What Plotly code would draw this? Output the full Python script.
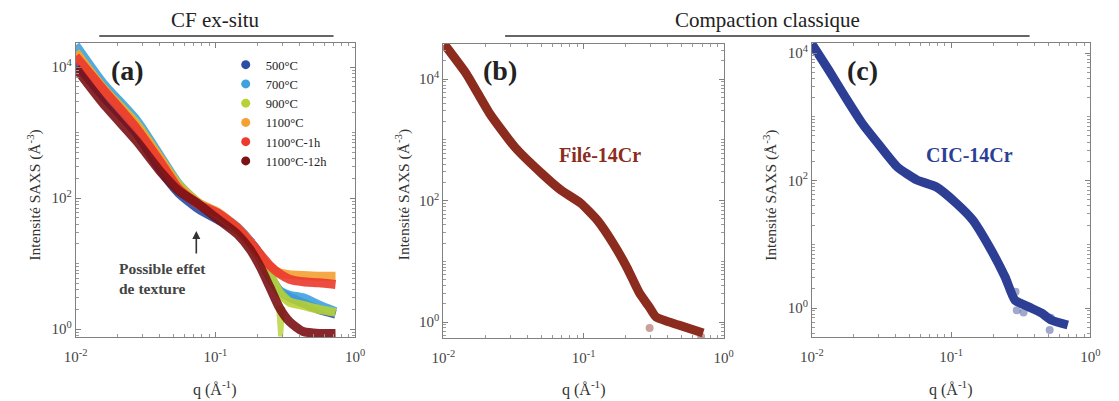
import plotly.graph_objects as go

# ---------------- data ----------------
q_a = [0.010, 0.0157, 0.0272, 0.0414, 0.0545, 0.0754, 0.104, 0.144, 0.177,
       0.209, 0.245, 0.288, 0.339, 0.425, 0.550, 0.724]

I_500 = [11500, 3600, 980, 250, 120, 69, 47, 33, 22, 13.5, 6.6, 3.8, 3.1, 2.5, 2.0, 1.7]
I_700 = [21700, 5700, 1560, 400, 165, 85, 60, 36, 22, 12, 6.2, 3.9, 3.3, 3.0, 2.35, 1.85]
I_900 = [17000, 4800, 1370, 370, 160, 85, 55, 32, 20, 12, 6.9, 3.6, 2.6, 2.3, 2.0, 1.8]
I_1100 = [17000, 4780, 1300, 370, 150, 85, 61, 35, 21.5, 13, 9.0, 7.2, 6.8, 6.6, 6.45, 6.45]
I_1100_1h = [14700, 4600, 1170, 330, 140, 80, 59, 35, 21.5, 14, 9.4, 7.0, 5.8, 5.3, 5.1, 4.8]
I_1100_12h = [9700, 2800, 750, 240, 130, 82, 48, 28, 16.5, 9.0, 4.4, 2.1, 1.3, 0.92, 0.86, 0.86]

q_900_dip = [0.283, 0.293, 0.303]
I_900_dip = [2.3, 0.78, 2.2]

q_b = [0.01016, 0.01449, 0.02133, 0.03238, 0.0500, 0.0690, 0.0953, 0.1253,
       0.1622, 0.2032, 0.2506, 0.2943, 0.329, 0.4766, 0.713]
I_b = [37700, 12560, 2756, 760, 284, 149, 91, 47.8, 20, 8.04, 3.0, 1.77, 1.21, 0.893, 0.659]
q_b_out = [0.296, 0.690]
I_b_out = [0.80, 0.57]

q_c = [0.0100, 0.01318, 0.01735, 0.02285, 0.02963, 0.04102, 0.05675, 0.07834,
       0.1084, 0.1428, 0.1883, 0.2440, 0.2869, 0.3600, 0.4443, 0.5224, 0.6886]
I_c = [13840, 5410, 2042, 798, 387, 163, 102, 79, 44.4, 24, 9.06, 3.06, 1.33, 1.04,
       0.835, 0.648, 0.541]
q_c_out = [0.290, 0.296, 0.331, 0.510, 0.520]
I_c_out = [1.8, 0.92, 0.85, 0.45, 0.7]

series_a = [
    ("500°C", I_500, "#2B4EA6"),
    ("700°C", I_700, "#3FA2DE"),
    ("900°C", I_900, "#B7D236"),
    ("1100°C", I_1100, "#F6A033"),
    ("1100°C-1h", I_1100_1h, "#EC3A2E"),
    ("1100°C-12h", I_1100_12h, "#7C1116"),
]

color_b = "#8C2C1E"
color_c = "#2C3F95"
FONT = "Liberation Serif"
W, H = 1119, 401

fig = go.Figure()

# panel (a) curves
for name, vals, col in series_a:
    fig.add_trace(go.Scatter(x=q_a, y=vals, mode="lines",
                             line=dict(color=col, width=9, shape="spline", smoothing=0.6),
                             opacity=0.9, showlegend=False, xaxis="x", yaxis="y"))
    if name == "900°C":
        fig.add_trace(go.Scatter(x=q_900_dip, y=I_900_dip, mode="lines", line=dict(color=col, width=5),
                                 opacity=0.8, showlegend=False, xaxis="x", yaxis="y"))
# legend entries
for name, vals, col in series_a:
    fig.add_trace(go.Scatter(x=[None], y=[None], mode="markers", name=name,
                             marker=dict(color=col, size=9), xaxis="x", yaxis="y"))

# panel (b)
fig.add_trace(go.Scatter(x=q_b, y=I_b, mode="lines",
                         line=dict(color=color_b, width=9, shape="spline", smoothing=0.5),
                         showlegend=False, xaxis="x2", yaxis="y2"))
fig.add_trace(go.Scatter(x=q_b_out, y=I_b_out, mode="markers", marker=dict(color=color_b, size=8, opacity=0.45),
                         showlegend=False, xaxis="x2", yaxis="y2"))
# panel (c)
fig.add_trace(go.Scatter(x=q_c, y=I_c, mode="lines",
                         line=dict(color=color_c, width=9, shape="spline", smoothing=0.5),
                         showlegend=False, xaxis="x3", yaxis="y3"))
fig.add_trace(go.Scatter(x=q_c_out, y=I_c_out, mode="markers", marker=dict(color=color_c, size=8, opacity=0.45),
                         showlegend=False, xaxis="x3", yaxis="y3"))


def px_x(p):
    return p / W


def px_y(p):
    return 1 - p / H


minor_vals = [k * 10 ** n for n in range(-3, 6) for k in range(2, 10)]
tickfont = dict(family=FONT, size=15, color="#444")


def xaxis(dom):
    return dict(type="log", domain=dom, range=[-2, 0], tickvals=[0.01, 0.1, 1],
                ticktext=["10<sup>-2</sup>", "10<sup>-1</sup>", "10<sup>0</sup>"],
                showline=True, mirror="ticks", linecolor="#808080", linewidth=1,
                ticks="inside", ticklen=5, tickcolor="#808080", showgrid=False, zeroline=False,
                tickfont=tickfont, ticklabelstandoff=6,
                minor=dict(ticks="inside", ticklen=3, tickcolor="#999", tickvals=minor_vals, showgrid=False))


def yaxis(dom, rng, anchor):
    return dict(type="log", domain=dom, range=rng, anchor=anchor,
                tickvals=[1, 100, 10000],
                ticktext=["10<sup>0</sup>", "10<sup>2</sup>", "10<sup>4</sup>"],
                showline=True, mirror="ticks", linecolor="#808080", linewidth=1,
                ticks="inside", ticklen=5, tickcolor="#808080", showgrid=False, zeroline=False,
                tickfont=tickfont,
                minor=dict(ticks="inside", ticklen=3, tickcolor="#999", tickvals=[10, 1000] + minor_vals,
                           showgrid=False))


fig.update_layout(
    width=W, height=H, margin=dict(l=0, r=0, t=0, b=0),
    paper_bgcolor="white", plot_bgcolor="white",
    font=dict(family=FONT, color="#333"),
    xaxis=dict(xaxis([px_x(65), px_x(350)]), anchor="y"),
    yaxis=yaxis([px_y(337), px_y(43)], [-0.12, 4.37], "x"),
    xaxis2=dict(xaxis([px_x(440), px_x(726)]), anchor="y2"),
    yaxis2=yaxis([px_y(338), px_y(44)], [-0.263, 4.58], "x2"),
    xaxis3=dict(xaxis([px_x(816), px_x(1100)]), anchor="y3"),
    yaxis3=yaxis([px_y(337), px_y(43)], [-0.455, 4.157], "x3"),
    legend=dict(x=px_x(218), y=px_y(50), xanchor="left", yanchor="top",
                font=dict(family=FONT, size=12.5, color="#222"), bgcolor="rgba(0,0,0,0)",
                tracegroupgap=0, itemwidth=30),
)

ann = []


def add_text(text, x, y, size, color, **kw):
    d = dict(text=text, x=px_x(x), y=px_y(y), xref="paper", yref="paper", showarrow=False,
             xanchor="center", yanchor="middle", font=dict(family=FONT, size=size, color=color))
    d.update(kw)
    ann.append(d)


# section titles
add_text("CF ex-situ", 208, 20, 21, "#222")
add_text("Compaction classique", 771, 20, 21, "#222")
# panel labels
for lbl, xp in [("(a)", 118), ("(b)", 498), ("(c)", 868)]:
    add_text("<b>" + lbl + "</b>", xp, 70, 28, "#222")
# axis titles
for xc in [22, 398, 773]:
    add_text("Intensité SAXS (Å<sup>-3</sup>)", xc, 195, 15.5, "#333", textangle=-90)
for xc in [207, 583, 958]:
    add_text("q (Å<sup>-1</sup>)", xc, 388, 16, "#333")
# in-plot texts
add_text("<b>Filé-14Cr</b>", 600, 155, 20, color_b)
add_text("<b>CIC-14Cr</b>", 977, 155, 20, color_c)
add_text("<b>Possible effet<br>de texture</b>", 107, 278, 15.5, "#444", xanchor="left", align="left")
ann.append(dict(x=px_x(188), y=px_y(231), xref="paper", yref="paper", ax=0, ay=24, text="",
                xanchor="center", yanchor="middle",
                showarrow=True, arrowhead=2, arrowsize=1, arrowwidth=1.6, arrowcolor="#333"))
fig.update_layout(annotations=ann)

# section underlines
fig.add_shape(type="line", xref="paper", yref="paper", x0=px_x(89), x1=px_x(328), y0=px_y(36), y1=px_y(36),
              line=dict(color="#333", width=1.5))
fig.add_shape(type="line", xref="paper", yref="paper", x0=px_x(503), x1=px_x(1038), y0=px_y(36), y1=px_y(36),
              line=dict(color="#333", width=1.5))

fig.write_html("out.html", config={"displayModeBar": False},
               post_script="document.body.style.margin='0px';")
